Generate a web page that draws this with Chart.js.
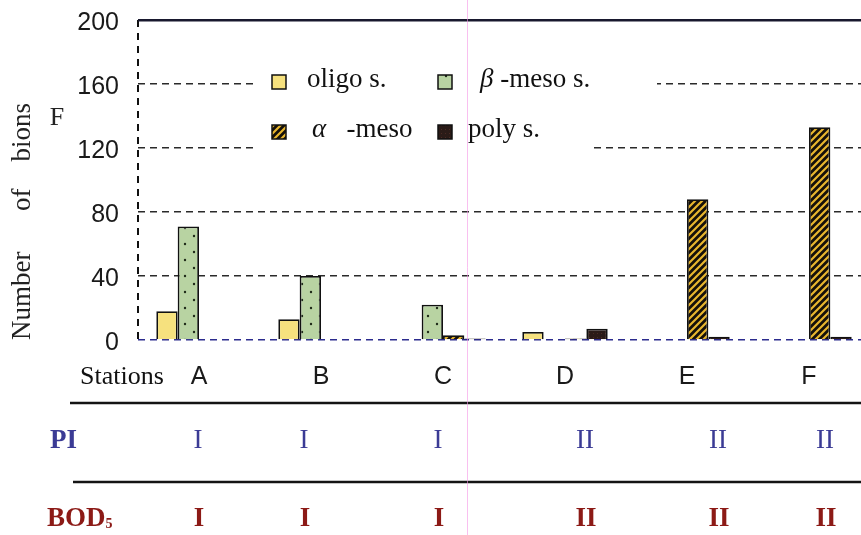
<!DOCTYPE html>
<html>
<head>
<meta charset="utf-8">
<script src="https://cdn.jsdelivr.net/npm/chart.js@4.4.1/dist/chart.umd.min.js"></script>
<style>
html,body{margin:0;padding:0;overflow:hidden;background:#fff;}
#wrap{position:relative;width:880px;height:535px;}
</style>
</head>
<body>
<div id="wrap"><canvas id="c" width="880" height="535"></canvas></div>
<script>
// ---- data ----
const stations = ['A', 'B', 'C', 'D', 'E', 'F'];
const oligoS = [18, 13, 0, 5, 0, 0];
const betaMesoS = [71, 40, 22, 0, 0, 0];
const alphaMeso = [0, 0, 3, 1, 88, 133];
const polyS = [0, 0, 1, 7, 2, 2];
const seriesLabels = ['oligo s.', 'β -meso s.', 'α   -meso', 'poly s.'];
const yTicks = [0, 40, 80, 120, 160, 200];
const piClass = ['I', 'I', 'I', 'II', 'II', 'II'];
const bodClass = ['I', 'I', 'I', 'II', 'II', 'II'];
const yTitle = 'Number      of    bions';

// ---- patterns ----
function makePattern(w, h, draw) {
  const c = document.createElement('canvas');
  c.width = w; c.height = h;
  const g = c.getContext('2d');
  draw(g, w, h);
  return document.getElementById('c').getContext('2d').createPattern(c, 'repeat');
}
const oligoFill = '#f6e17e';
const betaFill = makePattern(18, 16, (g, w, h) => {
  g.fillStyle = '#b8d3a2'; g.fillRect(0, 0, w, h);
  g.fillStyle = '#1e2a18';
  g.beginPath(); g.arc(5, 4, 1.2, 0, Math.PI * 2); g.fill();
  g.beginPath(); g.arc(14, 12, 1.2, 0, Math.PI * 2); g.fill();
});
const alphaFill = makePattern(7, 7, (g, w, h) => {
  g.fillStyle = '#15100a'; g.fillRect(0, 0, w, h);
  g.strokeStyle = '#e8b62e'; g.lineWidth = 2.2;
  g.beginPath();
  g.moveTo(-1, 8); g.lineTo(8, -1);
  g.moveTo(-5, 5); g.lineTo(5, -5);
  g.moveTo(2, 12); g.lineTo(12, 2);
  g.stroke();
});
const polyFill = makePattern(4, 4, (g, w, h) => {
  g.fillStyle = '#2a1b17'; g.fillRect(0, 0, w, h);
  g.fillStyle = '#4a2a22'; g.fillRect(1, 1, 1, 1);
});
const fills = [oligoFill, betaFill, alphaFill, polyFill];

const serif = '"Liberation Serif", "Times New Roman", serif';
const sans = '"Liberation Sans", Arial, sans-serif';

// ---- extras plugin: legend, side labels, table rows ----
const extras = {
  id: 'extras',
  afterDraw(chart) {
    const ctx = chart.ctx;
    const xs = chart.scales.x;
    ctx.save();
    // legend background (covers the grid lines)
    ctx.fillStyle = '#fff';
    ctx.fillRect(253, 62, 404, 44);
    ctx.fillRect(253, 106, 339, 46);
    const items = [
      {sx: 272, sy: 75, tx: 307, ty: 87},
      {sx: 438, sy: 75, tx: 480, ty: 87},
      {sx: 272, sy: 125, tx: 312, ty: 137},
      {sx: 438, sy: 125, tx: 468, ty: 137}
    ];
    chart.data.datasets.forEach((ds, i) => {
      const it = items[i];
      ctx.fillStyle = ds.backgroundColor;
      ctx.fillRect(it.sx, it.sy, 14, 14);
      ctx.strokeStyle = '#111'; ctx.lineWidth = 1.5;
      ctx.strokeRect(it.sx, it.sy, 14, 14);
      ctx.fillStyle = '#111';
      ctx.textBaseline = 'alphabetic';
      ctx.textAlign = 'left';
      let label = ds.label;
      let x = it.tx;
      if (/^[α-ωΑ-Ω]/.test(label)) {
        ctx.font = 'italic 27px ' + serif;
        ctx.fillText(label[0], x, it.ty);
        x += ctx.measureText(label[0]).width;
        label = label.slice(1);
      }
      ctx.font = '27px ' + serif;
      ctx.fillText(label, x, it.ty);
    });
    // "F" next to axis
    ctx.fillStyle = '#222';
    ctx.font = '26px ' + serif;
    ctx.textAlign = 'center'; ctx.textBaseline = 'middle';
    ctx.fillText('F', 57, 118);
    // Stations label
    ctx.textAlign = 'left';
    ctx.fillStyle = '#111';
    ctx.font = '26px ' + serif;
    ctx.fillText('Stations', 80, 377);
    // table lines
    ctx.strokeStyle = '#141414'; ctx.lineWidth = 2.5;
    ctx.beginPath(); ctx.moveTo(70, 403); ctx.lineTo(880, 403); ctx.stroke();
    ctx.beginPath(); ctx.moveTo(73, 482); ctx.lineTo(880, 482); ctx.stroke();
    // PI row
    ctx.fillStyle = '#3b3b95';
    ctx.font = 'bold 27px ' + serif;
    ctx.fillText('PI', 50, 441);
    const nudge = [-1, -17, -5, 20, 31, 16];
    ctx.textAlign = 'center';
    ctx.font = '27px ' + serif;
    piClass.forEach((v, i) => ctx.fillText(v, xs.getPixelForValue(i) + nudge[i], 441));
    // BOD5 row
    ctx.fillStyle = '#8c1a16';
    ctx.textAlign = 'left';
    ctx.font = 'bold 27px ' + serif;
    ctx.fillText('BOD', 47, 519);
    const bw = ctx.measureText('BOD').width;
    ctx.font = 'bold 14px ' + serif;
    ctx.fillText('5', 47 + bw, 524);
    ctx.textAlign = 'center';
    ctx.font = 'bold 27px ' + serif;
    bodClass.forEach((v, i) => ctx.fillText(v, xs.getPixelForValue(i) + nudge[i] + 1, 519));
    // scan artifact: faint pink vertical line
    ctx.strokeStyle = 'rgba(245,150,230,0.6)'; ctx.lineWidth = 1;
    ctx.beginPath(); ctx.moveTo(467.5, 0); ctx.lineTo(467.5, 535); ctx.stroke();
    ctx.restore();
  }
};

const seriesValues = [oligoS, betaMesoS, alphaMeso, polyS];
const datasets = seriesValues.map((vals, i) => ({
  label: seriesLabels[i],
  data: vals,
  backgroundColor: fills[i],
  borderColor: '#111',
  borderWidth: 1.8,
  borderSkipped: 'bottom',
  categoryPercentage: 0.7,
  barPercentage: 1.0
}));

new Chart(document.getElementById('c'), {
  type: 'bar',
  data: {labels: stations, datasets},
  plugins: [extras],
  options: {
    responsive: false,
    animation: false,
    devicePixelRatio: 1,
    layout: {padding: {left: 0, right: 10, top: 20, bottom: 0}},
    plugins: {legend: {display: false}, tooltip: {enabled: false}},
    scales: {
      x: {
        offset: true,
        grid: {
          offset: true,
          drawTicks: false,
          color: (c) => c.index === 0 ? '#111' : 'rgba(0,0,0,0)',
          lineWidth: (c) => c.index === 0 ? 2 : 0,
          borderDash: [7, 6]
        },
        border: {display: false, dash: [7, 6]},
        ticks: {
          color: '#1a1a1a',
          font: {family: sans, size: 25},
          padding: 22
        },
        afterFit: (s) => { s.height = 195; }
      },
      y: {
        min: 0, max: 200,
        afterBuildTicks: (s) => { s.ticks = yTicks.map(v => ({value: v})); },
        grid: {
          drawTicks: true,
          tickLength: 19,
          tickColor: 'rgba(0,0,0,0)',
          color: (c) => c.tick.value === 0 ? '#2c2c8e' : (c.tick.value === 200 ? '#18182e' : '#2a2a2a'),
          lineWidth: (c) => c.tick.value === 200 ? 2.5 : 1.6
        },
        border: {display: false, dash: (c) => (c.tick && c.tick.value === 200) ? [] : [7, 5]},
        ticks: {
          color: '#1a1a1a',
          font: {family: sans, size: 25},
          padding: 0,
          labelOffset: 3
        },
        title: {
          display: true,
          text: yTitle,
          align: 'start',
          color: '#222',
          font: {family: serif, size: 27},
          padding: {top: 7, bottom: 0}
        },
        afterFit: (s) => { s.width = 138; }
      }
    }
  }
});
</script>
</body>
</html>
